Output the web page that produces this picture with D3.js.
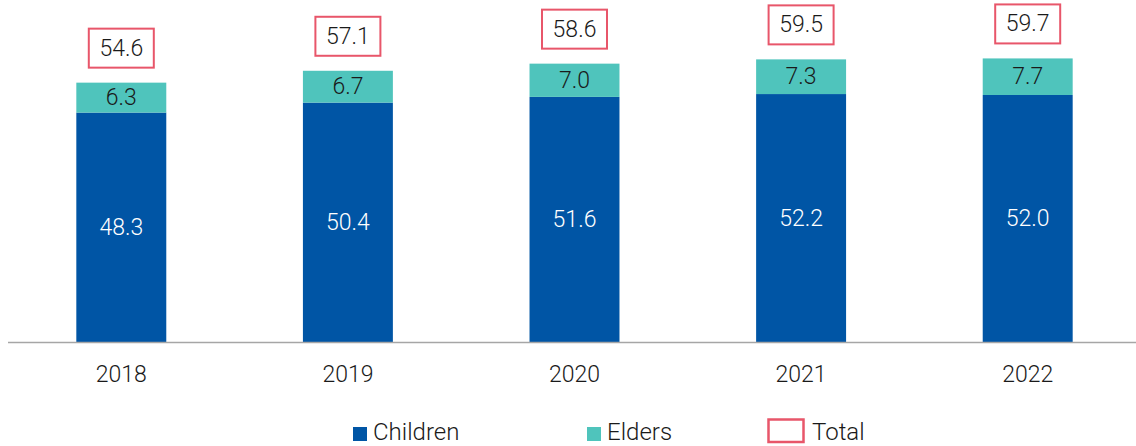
<!DOCTYPE html>
<html>
<head>
<meta charset="utf-8">
<script src="https://cdn.jsdelivr.net/npm/d3@7"></script>
<style>
  html, body { margin: 0; padding: 0; background: #fff; }
  svg { display: block; font-family: Roboto, "Noto Sans", sans-serif; font-weight: 300; }
</style>
</head>
<body>
<svg id="chart" width="1136" height="446"></svg>
<script>
// Stacked values per year
const years = ["2018", "2019", "2020", "2021", "2022"];
const children = [48.3, 50.4, 51.6, 52.2, 52.0];
const elders = [6.3, 6.7, 7.0, 7.3, 7.7];
const totals = [54.6, 57.1, 58.6, 59.5, 59.7];
const seriesNames = ["Children", "Elders", "Total"];

const colors = { Children: "#0055A5", Elders: "#4FC4BC", Total: "#E8566A" };

const svg = d3.select("#chart");
const W = 1136;
const baseY = 342;

const x = d3.scaleBand().domain(years).range([8, 1141]).paddingInner(0.603).paddingOuter(0.3015);
const y = d3.scaleLinear().domain([0, 72]).range([baseY, baseY - 72 * 4.75]);

const rows = years.map((yr, i) => ({ year: yr, Children: children[i], Elders: elders[i], total: totals[i] }));
const stack = d3.stack().keys(["Children", "Elders"])(rows);

const layers = svg.append("g").selectAll("g").data(stack).join("g")
  .attr("fill", d => colors[d.key]);

layers.selectAll("rect").data(d => d).join("rect")
  .attr("x", d => x(d.data.year))
  .attr("width", x.bandwidth())
  .attr("y", d => y(d[1]))
  .attr("height", d => y(d[0]) - y(d[1]));

// Segment value labels
layers.each(function(layer) {
  d3.select(this).selectAll("text").data(layer).join("text")
    .attr("x", d => x(d.data.year) + x.bandwidth() / 2)
    .attr("y", d => (y(d[0]) + y(d[1])) / 2)
    .attr("text-anchor", "middle")
    .attr("dominant-baseline", "central")
    .attr("font-size", 23)
    .attr("fill", layer.key === "Children" ? "#ffffff" : "#1a1a1a")
    .text(d => d3.format(".1f")(d.data[layer.key]));
});

// Axis baseline and year labels
const axis = svg.append("g").attr("transform", `translate(0,${baseY})`)
  .call(d3.axisBottom(x).tickSize(0).tickPadding(24));
axis.select(".domain").remove();
axis.append("line").attr("x1", 8).attr("x2", W).attr("y1", 0.5).attr("y2", 0.5)
  .attr("stroke", "#a6a6a6").attr("stroke-width", 1.5);
axis.selectAll(".tick text")
  .attr("font-size", 23).attr("font-family", "Roboto, sans-serif").attr("font-weight", 300)
  .attr("fill", "#1a1a1a");

// Total boxes above each stack
const boxW = 65, boxH = 39, gap = 15;
const totalG = svg.append("g").selectAll("g").data(rows).join("g")
  .attr("transform", d => `translate(${x(d.year) + x.bandwidth() / 2},${y(d.total) - gap - boxH / 2})`);
totalG.append("rect")
  .attr("x", -boxW / 2).attr("y", -boxH / 2).attr("width", boxW).attr("height", boxH)
  .attr("fill", "#fff").attr("stroke", colors.Total).attr("stroke-width", 2);
totalG.append("text")
  .attr("text-anchor", "middle").attr("dominant-baseline", "central")
  .attr("font-size", 23).attr("fill", "#1a1a1a")
  .text(d => d3.format(".1f")(d.total));

// Legend
const legend = svg.append("g");
const legendItems = [
  { name: seriesNames[0], x: 353, tx: 373, type: "fill" },
  { name: seriesNames[1], x: 587, tx: 607, type: "fill" },
  { name: seriesNames[2], x: 768.5, tx: 812, type: "box" }
];
legendItems.forEach(it => {
  const g = legend.append("g");
  if (it.type === "fill") {
    g.append("rect").attr("x", it.x).attr("y", 427).attr("width", 14).attr("height", 14)
      .attr("fill", colors[it.name]);
  } else {
    g.append("rect").attr("x", it.x).attr("y", 419.5).attr("width", 35).attr("height", 22.5)
      .attr("fill", "#fff").attr("stroke", colors.Total).attr("stroke-width", 2.5);
  }
  g.append("text").attr("x", it.tx).attr("y", 440)
    .attr("font-size", 24).attr("fill", "#1a1a1a").text(it.name);
});
</script>
</body>
</html>
